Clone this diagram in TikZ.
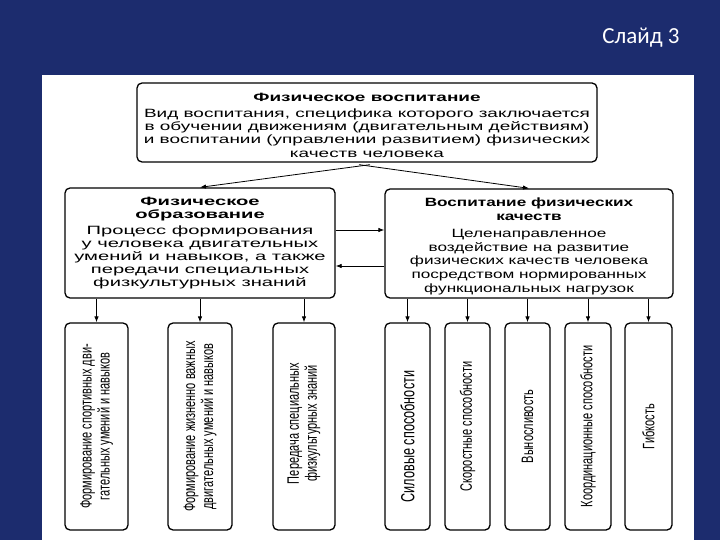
\documentclass[tikz,border=0pt]{standalone}
\usepackage{fontspec}
\setmainfont{Liberation Sans}
\newfontfamily\wfont[FakeStretch=1.58]{Liberation Sans}
\newfontfamily\wfontl[FakeStretch=1.68]{Liberation Sans}
\newfontfamily\wfontr[FakeStretch=1.43]{Liberation Sans}
\newfontfamily\rfont[FakeStretch=0.667]{Liberation Sans}
\newfontfamily\titlefont{Carlito}
\usetikzlibrary{arrows.meta,calc}
\definecolor{bgdark}{HTML}{1C2C6E}
\definecolor{bglight}{HTML}{4462A6}
\begin{document}
\begin{tikzpicture}[x=1pt,y=-1pt,
  box/.style={draw=black, line width=1.3pt, rounded corners=5pt, fill=white, inner sep=0pt},
  btext/.style={align=center, inner sep=0pt},
  vtext/.style={rotate=90, align=center, font=\rfont\fontsize{16.5}{18}\selectfont, inner sep=0pt},
  arr/.style={-{Latex[length=6pt,width=4.5pt]}, line width=0.8pt}
]
\useasboundingbox (0,0) rectangle (720,540);
\shade[left color=bgdark, middle color=bglight, right color=bgdark] (0,0) rectangle (720,540);
\fill[white] (42,75) rectangle (694,540);
\node[text=white, font=\titlefont\fontsize{23}{26}\selectfont] (title) at (641,38) {Слайд 3};

\node[box, minimum width=460, minimum height=79] (T) at (367,122.5) {};
\node[btext, font=\wfont\fontsize{12}{13.3}\selectfont] (Tt) at ($(T.center)+(0,3)$)
 {\textbf{Физическое воспитание}\\[2pt]
  Вид воспитания, специфика которого заключается\\
  в обучении движениям (двигательным действиям)\\
  и воспитании (управлении развитием) физических\\
  качеств человека};

\node[box, minimum width=270, minimum height=110] (L) at (200,243) {};
\node[btext, font=\wfontl\fontsize{12}{13.1}\selectfont] (Lt) at ($(L.center)+(0,0)$)
 {\textbf{Физическое}\\\textbf{образование}\\[3pt]
  Процесс формирования\\у человека двигательных\\умений и навыков, а также\\передачи специальных\\физкультурных знаний};

\node[box, minimum width=288, minimum height=109] (R) at (529,243.5) {};
\node[btext, font=\wfontr\fontsize{12}{13.8}\selectfont] (Rt) at ($(R.center)+(0,3)$)
 {\textbf{Воспитание физических}\\\textbf{качеств}\\[3pt]
  Целенаправленное\\воздействие на развитие\\физических качеств человека\\посредством нормированных\\функциональных нагрузок};

\draw[arr] ($(T.south)+(3,2)$) -- (L.north);
\draw[arr] ($(T.south)+(-8,2)$) -- (R.north);
\draw[arr] (L.east |- 0,230) -- (R.west |- 0,230);
\draw[arr] (R.west |- 0,266) -- (L.east |- 0,266);

\foreach \n/\xa/\xb in {s1/65/128, s2/168/232, s3/273/335, s4/385/430, s5/445/490, s6/505/550, s7/565/611, s8/625/672}{
  \node[box, minimum width=\xb-\xa, minimum height=207] (\n) at ({(\xa+\xb)/2},426.5) {};
}
\foreach \n/\p in {s1/L, s2/L, s3/L, s4/R, s5/R, s6/R, s7/R, s8/R}{
  \draw[arr] (\n.north |- \p.south) -- (\n.north);
}

\node[vtext] (t1) at (s1.center) {Формирование спортивных дви-\\гательных умений и навыков};
\node[vtext] (t2) at (s2.center) {Формирование жизненно важных\\двигательных умений и навыков};
\node[vtext] (t3) at ($(s3.center)+(0,-3)$) {Передача специальных\\физкультурных знаний};
\node[vtext, font=\rfont\fontsize{19}{20}\selectfont] (t4) at ($(s4.center)+(0,10)$) {Силовые способности};
\node[vtext] (t5) at (s5.center) {Скоростные способности};
\node[vtext] (t6) at (s6.center) {Выносливость};
\node[vtext] (t7) at (s7.center) {Координационные способности};
\node[vtext] (t8) at (s8.center) {Гибкость};
\end{tikzpicture}
\end{document}
